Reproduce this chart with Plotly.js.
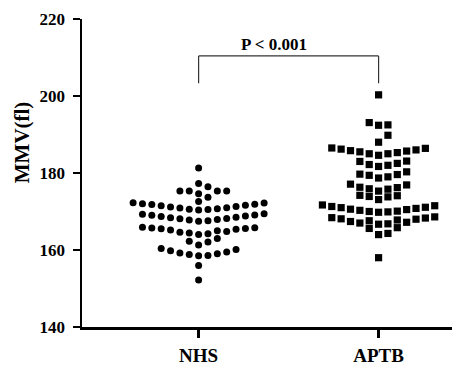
<!DOCTYPE html>
<html>
<head>
<meta charset="utf-8">
<script src="https://cdn.plot.ly/plotly-3.0.1.min.js"></script>
<style>html,body{margin:0;padding:0;background:#fff;}</style>
</head>
<body>
<div id="chart" style="width:455px;height:367px;"></div>
<script>
// ---- data ----
const groups = ['NHS', 'APTB'];
const nhsMMV = [
  152.2, 156.0,
  158.5, 158.6, 158.8, 159.0, 159.2, 159.5, 159.8, 160.1, 160.4,
  161.3, 162.1, 162.3, 163.0,
  164.0, 164.2, 164.4, 164.6, 164.8, 165.0, 165.2, 165.4, 165.5, 165.6, 165.7, 165.8, 165.9,
  167.5, 167.6, 167.8, 167.9, 168.1, 168.2, 168.4, 168.5, 168.7, 168.8, 169.0, 169.1, 169.3, 169.4,
  170.4, 170.5, 170.6, 170.7, 170.9, 171.0, 171.2, 171.3, 171.5, 171.6, 171.8, 171.9, 172.0, 172.2, 172.3,
  172.6, 173.7, 174.6, 175.3, 175.3, 175.3, 175.3, 176.4, 177.3, 181.3
];
const aptbMMV = [
  158.0,
  164.0, 164.3, 165.6, 165.8,
  166.7, 166.8, 167.0, 167.2, 167.4, 167.6, 167.8, 168.0, 168.1, 168.3, 168.4, 168.6,
  169.8, 169.9, 170.0, 170.1, 170.3, 170.5, 170.6, 170.8, 171.0, 171.1, 171.3, 171.5, 171.7,
  173.1, 173.8, 173.9, 174.1, 174.2,
  175.3, 175.8, 175.9, 176.2, 176.3, 176.9, 177.1,
  178.7, 179.0, 179.4, 179.6, 179.7, 180.3,
  181.7, 182.0, 182.2, 182.5, 183.0, 183.1,
  184.6, 185.0, 185.0, 185.3, 185.5, 185.7, 185.8, 186.0, 186.2, 186.4, 186.5,
  188.0, 189.8, 192.4, 192.5, 193.1, 200.3
];
const yTickValues = [140, 160, 180, 200, 220];
const pText = 'P < 0.001';

// ---- layout constants ----
const FONT = 'Liberation Serif, Times New Roman, serif';
const COL_STEP = 0.052;  // horizontal spacing between swarm columns (category units)
const MIN_GAP = 1.95;    // minimum vertical distance (data units) for two points in one column

// Beeswarm: place points in ascending order into the nearest free column (0, +1, -1, +2, -2, ...)
function swarmColumns(values) {
  const order = values.map((v, i) => i).sort((a, b) => values[a] - values[b]);
  const cols = {};
  const out = new Array(values.length);
  for (const i of order) {
    const v = values[i];
    for (let k = 0; ; k++) {
      const c = k === 0 ? 0 : (k % 2 === 1 ? (k + 1) / 2 : -(k / 2));
      const list = cols[c] || (cols[c] = []);
      if (list.every(u => Math.abs(v - u) >= MIN_GAP - 1e-9)) {
        list.push(v); out[i] = c; break;
      }
    }
  }
  return out;
}

function makeTrace(values, gi, symbol, size) {
  const cols = swarmColumns(values);
  return {
    type: 'scatter', mode: 'markers',
    x: cols.map(c => gi + c * COL_STEP),
    y: values,
    marker: { symbol: symbol, size: size, color: '#000', line: { width: 0 } },
    hoverinfo: 'skip', cliponaxis: false, name: groups[gi]
  };
}

const traces = [
  makeTrace(nhsMMV, 0, 'circle', 7),
  makeTrace(aptbMMV, 1, 'square', 7.2)
];

const layout = {
  width: 455, height: 367,
  margin: { l: 82, r: 3, t: 19, b: 40 },
  paper_bgcolor: '#fff', plot_bgcolor: '#fff',
  showlegend: false,
  font: { family: FONT, color: '#000' },
  xaxis: {
    range: [-0.648, 1.408],
    tickmode: 'array', tickvals: [0, 1], ticktext: groups,
    showline: true, linewidth: 2.5, linecolor: '#000',
    ticks: 'outside', ticklen: 8, tickwidth: 2.5, tickcolor: '#000',
    showgrid: false, zeroline: false,
    tickfont: { family: FONT, size: 19, weight: 'bold', color: '#000' },
    ticklabelstandoff: 2
  },
  yaxis: {
    range: [140, 220],
    tickmode: 'array', tickvals: yTickValues,
    showline: true, linewidth: 2.5, linecolor: '#000',
    ticks: 'outside', ticklen: 7, tickwidth: 2.5, tickcolor: '#000',
    showgrid: false, zeroline: false,
    tickfont: { family: FONT, size: 17, weight: 'bold', color: '#000' },
    ticklabelstandoff: 4
  },
  shapes: [
    { type: 'line', xref: 'x', yref: 'y', x0: 0, x1: 1, y0: 210.4, y1: 210.4, line: { color: '#333', width: 1.2 } },
    { type: 'line', xref: 'x', yref: 'y', x0: 0, x1: 0, y0: 210.4, y1: 203.3, line: { color: '#333', width: 1.2 } },
    { type: 'line', xref: 'x', yref: 'y', x0: 1, x1: 1, y0: 210.4, y1: 203.3, line: { color: '#333', width: 1.2 } }
  ],
  annotations: [
    { text: pText, xref: 'x', yref: 'y', x: 0.42, y: 213.3, xanchor: 'center', yanchor: 'middle',
      showarrow: false, font: { family: FONT, size: 17, weight: 'bold', color: '#000' } },
    { text: 'MMV(fl)', xref: 'paper', yref: 'paper', x: -0.162, y: 0.6, xanchor: 'center', yanchor: 'middle',
      textangle: -90, showarrow: false, font: { family: FONT, size: 21, weight: 'bold', color: '#000' } }
  ]
};

Plotly.newPlot('chart', traces, layout, { displayModeBar: false, staticPlot: true });
</script>
</body>
</html>
